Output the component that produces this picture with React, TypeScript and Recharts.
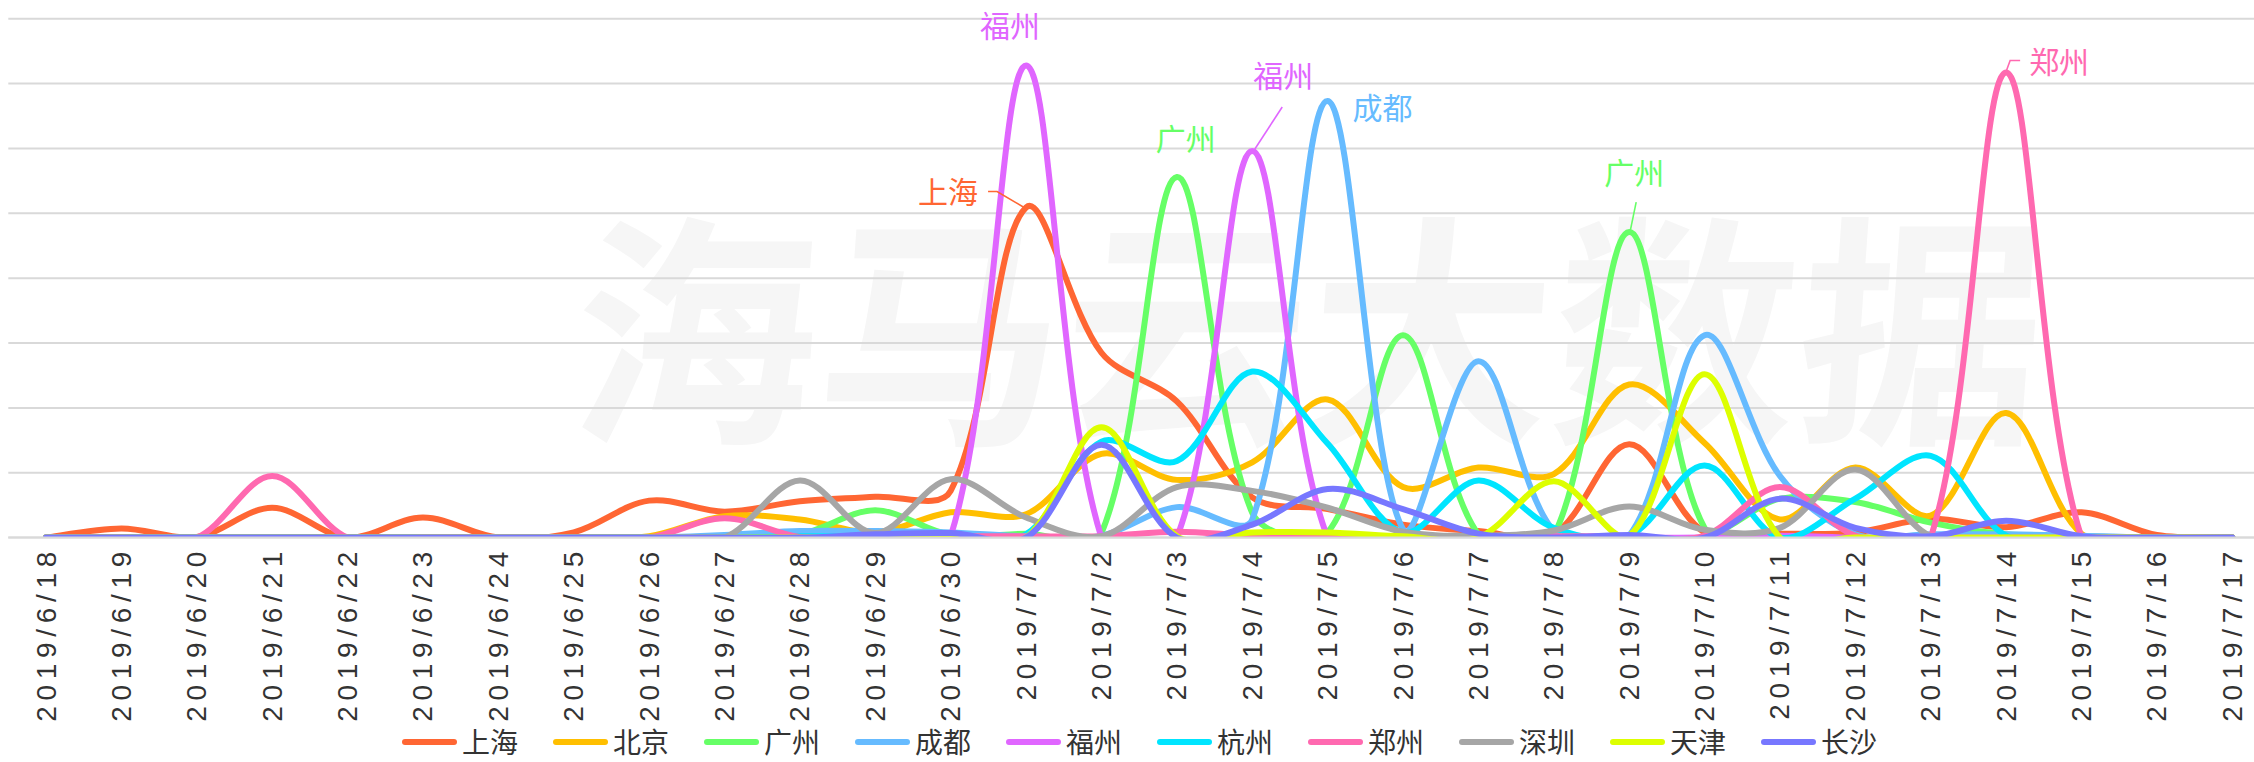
import React from 'react';
import { LineChart, Line, XAxis, YAxis, CartesianGrid, ReferenceDot } from 'recharts';

const dates = [
  '2019/6/18', '2019/6/19', '2019/6/20', '2019/6/21', '2019/6/22', '2019/6/23', '2019/6/24',
  '2019/6/25', '2019/6/26', '2019/6/27', '2019/6/28', '2019/6/29', '2019/6/30', '2019/7/1',
  '2019/7/2', '2019/7/3', '2019/7/4', '2019/7/5', '2019/7/6', '2019/7/7', '2019/7/8',
  '2019/7/9', '2019/7/10', '2019/7/11', '2019/7/12', '2019/7/13', '2019/7/14', '2019/7/15',
  '2019/7/16', '2019/7/17',
];

const shanghai = [0, 0.14, 0.01, 0.46, 0, 0.31, 0, 0.08, 0.57, 0.4, 0.56, 0.63, 0.72, 5.09, 2.85, 2.1, 0.62, 0.44, 0.2, 0.1, 0.05, 1.44, 0.08, 0.06, 0.08, 0.29, 0.16, 0.39, 0.04, 0];
const beijing = [0, 0, 0, 0, 0, 0, 0, 0, 0.02, 0.33, 0.28, 0.08, 0.39, 0.36, 1.29, 0.89, 1.16, 2.13, 0.78, 1.08, 0.98, 2.36, 1.46, 0.28, 1.08, 0.34, 1.92, 0.06, 0, 0];
const guangzhou = [0, 0, 0, 0, 0, 0, 0, 0, 0, 0, 0.05, 0.42, 0.04, 0.06, 0.07, 5.56, 0.38, 0.08, 3.12, 0.05, 0.03, 4.71, 0.15, 0.6, 0.55, 0.23, 0.05, 0.02, 0, 0];
const chengdu = [0, 0, 0, 0, 0, 0, 0, 0, 0, 0.04, 0.1, 0.1, 0.08, 0.02, 0.03, 0.47, 0.28, 6.73, 0.13, 2.72, 0.1, 0.03, 3.12, 0.95, 0.05, 0.05, 0.05, 0.03, 0, 0];
const fuzhou = [0, 0, 0, 0, 0, 0, 0, 0, 0, 0, 0, 0, 0.02, 7.28, 0, 0, 5.96, 0, 0, 0, 0, 0, 0, 0.03, 0, 0, 0, 0, 0, 0];
const hangzhou = [0, 0, 0, 0, 0, 0, 0, 0, 0, 0, 0.02, 0.02, 0.02, 0.05, 1.48, 1.18, 2.56, 1.45, 0.08, 0.88, 0.15, 0.03, 1.11, 0, 0.6, 1.26, 0.03, 0, 0, 0];
const zhengzhou = [0, 0, 0, 0.95, 0, 0, 0, 0, 0, 0.3, 0.01, 0.02, 0.02, 0.02, 0.02, 0.09, 0.03, 0.02, 0.02, 0.02, 0.02, 0.02, 0.03, 0.78, 0.03, 0, 7.17, 0, 0, 0];
const shenzhen = [0, 0, 0, 0, 0, 0, 0, 0, 0, 0, 0.88, 0.07, 0.9, 0.31, 0.02, 0.78, 0.72, 0.46, 0.09, 0.03, 0.11, 0.48, 0.12, 0.15, 1.05, 0.02, 0, 0, 0, 0];
const tianjin = [0, 0, 0, 0, 0, 0, 0, 0, 0, 0, 0, 0, 0, 0, 1.7, 0.02, 0.08, 0.08, 0.02, 0, 0.87, 0.03, 2.52, 0, 0, 0, 0, 0, 0, 0];
const changsha = [0, 0, 0, 0, 0, 0, 0, 0, 0, 0, 0, 0.05, 0.07, 0, 1.43, 0, 0.2, 0.75, 0.44, 0.06, 0, 0.04, 0, 0.6, 0.15, 0.02, 0.26, 0.02, 0, 0];

const seriesNames = ['上海', '北京', '广州', '成都', '福州', '杭州', '郑州', '深圳', '天津', '长沙'];
const seriesColors = ['#FF6633', '#FFBF00', '#66FF66', '#66BBFF', '#E066FF', '#00E5FF', '#FF69B0', '#A6A6A6', '#DDFF00', '#7777FF'];
const seriesValues = [shanghai, beijing, guangzhou, chengdu, fuzhou, hangzhou, zhengzhou, shenzhen, tianjin, changsha];
const yTicks = [0, 1, 2, 3, 4, 5, 6, 7, 8];
const watermarkText = '海马云大数据';

// annotations: series index, date index, label text
const annotations = [
  { s: 4, i: 13, text: '福州', dx: -16, dy: -41, leader: [] as number[][] },
  { s: 0, i: 13, text: '上海', dx: -78, dy: -17, leader: [[-38, -16], [-29, -16], [-2, 0]] },
  { s: 2, i: 15, text: '广州', dx: 9, dy: -40, leader: [] as number[][] },
  { s: 4, i: 16, text: '福州', dx: 31, dy: -77, leader: [[30, -44], [2, -1]] },
  { s: 3, i: 17, text: '成都', dx: 55, dy: 5, leader: [] as number[][] },
  { s: 2, i: 21, text: '广州', dx: 5, dy: -61, leader: [[7, -30], [1, -1]] },
  { s: 6, i: 26, text: '郑州', dx: 53, dy: -13, leader: [[14, -12], [4, -12], [0, -1]] },
];

const data = dates.map((d, i) => {
  const row: Record<string, any> = { date: d };
  seriesNames.forEach((n, k) => {
    row[n] = seriesValues[k][i];
  });
  return row;
});

// Excel-like smoothed line: Bezier with tangents through neighbours,
// arm lengths scaled by adjacent segment lengths.
const excelSmooth: any = (context: any) => {
  let pts: number[][] = [];
  return {
    areaStart() {},
    areaEnd() {},
    lineStart() {
      pts = [];
    },
    point(x: number, y: number) {
      pts.push([+x, +y]);
    },
    lineEnd() {
      const n = pts.length;
      if (!n) return;
      context.moveTo(pts[0][0], pts[0][1]);
      if (n < 2) return;
      const len: number[] = [];
      for (let i = 0; i < n - 1; i++) {
        len.push(Math.hypot(pts[i + 1][0] - pts[i][0], pts[i + 1][1] - pts[i][1]));
      }
      const outArm: number[][] = [];
      const inArm: number[][] = [];
      for (let i = 0; i < n; i++) {
        const prev = pts[Math.max(0, i - 1)];
        const next = pts[Math.min(n - 1, i + 1)];
        const dx = next[0] - prev[0];
        const dy = next[1] - prev[1];
        const lp = i > 0 ? len[i - 1] : 0;
        const ln = i < n - 1 ? len[i] : 0;
        let fo = 1 / 6;
        let fi = 1 / 6;
        if (lp > 0 && ln > 0) {
          fo = ln / (3 * (lp + ln));
          fi = lp / (3 * (lp + ln));
        }
        outArm.push([dx * fo, dy * fo]);
        inArm.push([dx * fi, dy * fi]);
      }
      for (let i = 0; i < n - 1; i++) {
        const p1 = pts[i];
        const p2 = pts[i + 1];
        context.bezierCurveTo(
          p1[0] + outArm[i][0],
          p1[1] + outArm[i][1],
          p2[0] - inArm[i + 1][0],
          p2[1] - inArm[i + 1][1],
          p2[0],
          p2[1]
        );
      }
    },
  };
};

const DateTick = (props: any) => {
  const { x, y, payload } = props;
  return (
    <text
      transform={`translate(${x},${y}) rotate(-90)`}
      x={0}
      y={0}
      dx={5.7}
      textAnchor="end"
      dominantBaseline="central"
      fontSize={28}
      letterSpacing={5.7}
      fill="#333333"
      fontFamily="'Liberation Sans', Arial, sans-serif"
    >
      {payload.value}
    </text>
  );
};

const EmptyTick = () => <g />;

const Anno = (props: any) => {
  const { cx, cy, a } = props;
  if (cx == null || cy == null) return <g />;
  const color = seriesColors[a.s];
  return (
    <g>
      {a.leader.length > 0 && (
        <polyline
          points={a.leader.map((p: number[]) => `${cx + p[0]},${cy + p[1]}`).join(' ')}
          fill="none"
          stroke={color}
          strokeWidth={1.6}
        />
      )}
      <text
        x={cx + a.dx}
        y={cy + a.dy}
        textAnchor="middle"
        dominantBaseline="central"
        fontSize={30}
        fill={color}
        fontFamily="'Noto Sans CJK SC', sans-serif"
      >
        {a.text}
      </text>
    </g>
  );
};

export default function App() {
  return (
    <div
      style={{
        position: 'absolute',
        left: 0,
        top: 0,
        width: 2254,
        height: 762,
        overflow: 'hidden',
        background: '#ffffff',
      }}
    >
      <svg
        width={2254}
        height={762}
        style={{ position: 'absolute', left: 0, top: 0 }}
      >
        <text
          x={575}
          y={318}
          dominantBaseline="central"
          fontSize={245}
          fontWeight={700}
          fill="#f6f6f6"
          fontFamily="'Noto Sans CJK SC', sans-serif"
          transform="skewX(-4) translate(22,0)"
        >
          {watermarkText}
        </text>
      </svg>
      <div style={{ position: 'absolute', left: 0, top: 0 }}>
        <LineChart
          width={2270}
          height={762}
          data={data}
          margin={{ top: 18.7, right: 0, bottom: 0, left: 8.3 }}
        >
          <CartesianGrid vertical={false} stroke="#d9d9d9" strokeWidth={2} />
          <XAxis
            dataKey="date"
            interval={0}
            height={224.4}
            padding={{ left: 37.7, right: 37.7 }}
            tickLine={false}
            tickSize={0}
            tickMargin={14}
            axisLine={{ stroke: '#d9d9d9', strokeWidth: 2 }}
            tick={DateTick}
          />
          <YAxis
            width={0}
            domain={[0, 8]}
            ticks={yTicks}
            interval={0}
            allowDataOverflow
            tick={EmptyTick}
            axisLine={false}
            tickLine={false}
          />
          {seriesNames.map((n, k) => (
            <Line
              key={n}
              dataKey={n}
              type={excelSmooth}
              stroke={seriesColors[k]}
              strokeWidth={6}
              strokeLinecap="round"
              strokeLinejoin="round"
              dot={false}
              activeDot={false}
              isAnimationActive={false}
            />
          ))}
          {annotations.map((a, k) => (
            <ReferenceDot
              key={k}
              x={dates[a.i]}
              y={seriesValues[a.s][a.i]}
              r={0}
              ifOverflow="visible"
              shape={(p: any) => <Anno {...p} a={a} />}
            />
          ))}
        </LineChart>
      </div>
      <div
        style={{
          position: 'absolute',
          left: 402,
          top: 721,
          display: 'flex',
          fontFamily: "'Noto Sans CJK SC', sans-serif",
        }}
      >
        {seriesNames.map((n, k) => (
          <div key={n} style={{ width: 151, display: 'flex', alignItems: 'center', height: 41 }}>
            <span
              style={{
                display: 'inline-block',
                width: 55,
                height: 6,
                borderRadius: 3,
                background: seriesColors[k],
                marginRight: 5,
              }}
            />
            <span style={{ fontSize: 28, lineHeight: '41px', height: 41, color: '#333333' }}>{n}</span>
          </div>
        ))}
      </div>
    </div>
  );
}
